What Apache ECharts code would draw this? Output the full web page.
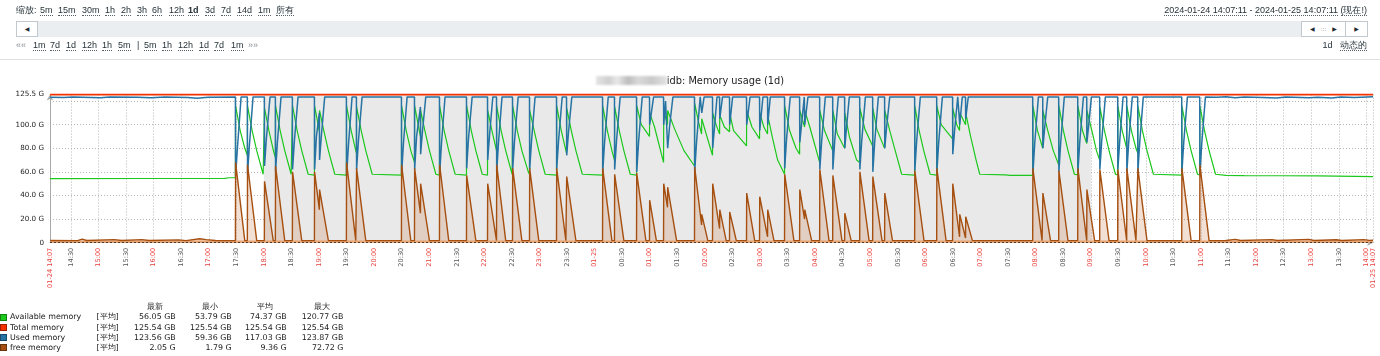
<!DOCTYPE html>
<html><head><meta charset="utf-8">
<script src="https://cdn.jsdelivr.net/npm/echarts@6/dist/echarts.min.js"></script>
<style>
html,body{margin:0;padding:0;background:#fff;width:1380px;height:356px;overflow:hidden;}
#chart{position:absolute;left:0;top:0;width:1380px;height:356px;}
.ui{position:absolute;font-family:"Liberation Sans",Arial,sans-serif;font-size:9px;line-height:11px;color:#1f2c33;white-space:nowrap;}
.u{border-bottom:1px dotted #55606a;}
.b{font-weight:bold;}
.g{color:#8a9399;}
.box{position:absolute;background:#fff;border:1px solid #c2c9ce;box-sizing:border-box;font-family:"DejaVu Sans",sans-serif;font-size:6px;color:#1f2c33;text-align:center;line-height:14px;}
.lg{position:absolute;font-family:"DejaVu Sans",sans-serif;font-size:7.9px;line-height:10px;color:#1a1a1a;white-space:nowrap;}
.sq{position:absolute;width:7px;height:7px;box-sizing:border-box;border:1px solid rgba(0,0,0,0.35);}
</style></head>
<body>
<div id="chart"></div>
<div id="ui"></div>
<script>
// ---------- data ----------
const seriesNames = ['Available memory','Total memory','Used memory','free memory'];
const legendHeaders = ['最新','最小','平均','最大'];
const legendFunc = '[平均]';
const statLast = ['56.05 GB','125.54 GB','123.56 GB','2.05 G'];
const statMin  = ['53.79 GB','125.54 GB','59.36 GB','1.79 G'];
const statAvg  = ['74.37 GB','125.54 GB','117.03 GB','9.36 G'];
const statMax  = ['120.77 GB','125.54 GB','123.87 GB','72.72 G'];

const titleText = 'idb: Memory usage (1d)';
const timeRangeText = ['2024-01-24 14:07:11','2024-01-25 14:07:11','(现在!)'];
const nonWorkPeriod = ['18:00','09:00'];
const freeMinBand = 1.79;

const yMax = 125.54;
const yTickValues = [0,20,40,60,80,100,125.54];
const yTickLabels = ['0','20.0 G','40.0 G','60.0 G','80.0 G','100.0 G','125.5 G'];
const yGridValues = [20,40,60,80,100,120,125.54];

const xTickLabels = ['01-24 14:07','14:30','15:00','15:30','16:00','16:30','17:00','17:30','18:00','18:30','19:00','19:30','20:00','20:30','21:00','21:30','22:00','22:30','23:00','23:30','01-25','00:30','01:00','01:30','02:00','02:30','03:00','03:30','04:00','04:30','05:00','05:30','06:00','06:30','07:00','07:30','08:00','08:30','09:00','09:30','10:00','10:30','11:00','11:30','12:00','12:30','13:00','13:30','14:00','01-25 14:07'];

// points: [minutes since 01-24 14:07:11, GB]
const totalPts = [[0,125.54],[1440,125.54]];

const availablePts = [
[0,54.3],[100,54.4],[190,54.5],[195,55.0],[201.8,55.0],
[202,116],[207,95],[212,80],[214.8,74],
[215,116],[220,95],[225,78],[232,58],[233.3,57.5],
[233.5,114],[238.5,94],[243.5,77],[245.3,72],
[245.5,116],[250.5,95],[255.5,78],[262.5,58],[263.8,57.3],
[264,116],[269,95],[274,78],[281,58],[287.8,57.3],
[288,116],[293.2,94],
[293.4,112],[298,95],[303,78],[310,58],[322.6,57.3],
[322.8,116],[327.8,95],[332.8,78],[333.5,76],
[333.7,115],[338.7,95],[343.7,78],[350.7,58],[382.5,57.3],
[382.7,116],[387.7,95],[392.7,78],[396.7,68],
[396.9,116],[401.9,95],[403.2,90],
[403.4,112],[408,95],[413,78],[420,58],[423.9,57.3],
[424.1,116],[429,95],[434,78],[441,58],[453.3,57.3],
[453.5,116],[458.5,95],[463.5,78],[470.5,58],[476.2,57.3],
[476.4,112],[481,95],[486,78],
[486.2,116],[491,95],[496,78],[503,58],[503.4,57.5],
[503.6,116],[508.6,95],[513.6,78],[520.6,60],[521.9,58],
[522.1,112],[527,95],[532,78],[539,58],[551.3,57.3],
[551.5,116],[556.5,95],[561.5,78],[562.2,76],
[562.4,114],[567.4,95],[572.4,78],[579.4,58],[601.4,57.3],
[601.6,116],[606.6,95],[611.6,78],[614.4,70],
[614.6,115],[619.6,95],[624.6,78],[631.6,58],[638.4,57.3],
[638.6,116],[643.6,100],[652.5,90],
[652.7,110],[658,98],[667.8,68],
[668,112],[672.1,100],
[672.3,112],[680,96],[690,78],[701.5,65],
[701.7,118],[706,102],[709.2,92],
[709.4,105],[715,90],[721.1,74],
[721.3,110],[725,100],[728.8,92],
[729,108],[734,98],[739.6,94],
[739.8,110],[744,95],[758.1,82],
[758.3,112],[764,98],[772.3,88],
[772.5,110],[777,98],[781,92],
[781.2,108],[786,90],[792,70],[799.5,58],
[799.7,116],[805,95],[812,80],[815.9,75],
[816.1,112],[821.3,98],
[821.5,112],[827,98],[837.7,68],
[837.9,112],[843,95],[851.9,78],
[852.1,112],[857,92],[864.9,80],
[865.1,110],[870,90],[878,70],[881.3,68],
[881.5,114],[887,96],[895.4,82],
[895.6,114],[900,96],[908.4,80],
[908.6,112],[914,95],[921,75],[927,58],[941.1,57.3],
[941.3,116],[946,95],[951,78],[958,58],[965.1,57.3],
[965.3,116],[970,100],[982.4,88],
[982.6,114],[987,100],[990,95],
[990.2,110],[996.5,100],
[996.7,110],[1002,90],[1008,70],[1012,58],[1040,57.5],[1045,57.0],[1069.6,57.0],
[1069.8,116],[1074.8,95],[1080.5,80],
[1080.7,112],[1086,95],[1092,78],[1097.9,66],
[1098.1,116],[1103,95],[1108,78],[1115,58],[1118.6,57.5],
[1118.8,116],[1123.8,95],[1128.4,84],
[1128.6,112],[1134,95],[1139,78],[1142.5,70],
[1142.7,115],[1147.7,95],[1152.7,78],[1159.7,58],[1162.1,57.5],
[1162.3,116],[1167,95],[1171.9,80],
[1172.1,116],[1177,95],[1182,80],[1183.9,76],
[1184.1,116],[1189,95],[1194,78],[1201,58],[1231.8,57.3],
[1232,116],[1237,95],[1242,78],[1249,58],[1251.4,57.5],
[1251.6,116],[1256.6,95],[1261.6,78],[1268.6,58],[1280,57.0],[1300,56.8],[1340,56.7],[1380,56.6],[1440,56.05]
];

const usedPts = [
[0,123.3],[15,122.9],[25,123.4],[55,122.8],[65,123.4],[95,123.2],[110,122.8],[125,123.4],[150,123.0],[160,122.3],[172,123.3],[201.8,123.4],
[202,57],[204,80],[208,123.5],
[214.8,123.5],[215,58],[217,82],[221,123.5],
[233.3,123.5],[233.5,65],[235.5,88],[239.5,123.5],
[245.3,123.5],[245.5,60],[247.5,85],[251.5,123.5],
[263.8,123.5],[264,62],[266,86],[270,123.5],
[287.8,123.5],[288,62],[290,90],[293.2,110],
[293.4,70],[295.5,92],[299,123.5],
[322.6,123.5],[322.8,57],[324.8,82],[328.8,123.5],
[333.5,123.5],[333.7,62],[335.7,86],[339.7,123.5],
[382.5,123.5],[382.7,58],[384.7,84],[388.7,123.5],
[396.7,123.5],[396.9,62],[399,90],[403.2,115],
[403.4,75],[405.5,95],[409,123.5],
[423.9,123.5],[424.1,58],[426.1,84],[430,123.5],
[453.3,123.5],[453.5,63],[455.5,88],[459.5,123.5],
[476.2,123.5],[476.4,70],[478.5,92],[482,123.5],
[486,123.5],[486.2,60],[488.2,85],[492,123.5],
[503.4,123.5],[503.6,62],[505.6,86],[509.6,123.5],
[521.9,123.5],[522.1,62],[524.1,86],[528,123.5],
[551.3,123.5],[551.5,62],[553.5,86],[557.5,123.5],
[562.2,123.5],[562.4,74],[564.4,94],[568,123.5],
[601.4,123.5],[601.6,60],[603.6,85],[607.6,123.5],
[614.4,123.5],[614.6,62],[616.6,86],[620.6,123.5],
[638.4,123.5],[638.6,60],[640.6,85],[644.6,123.5],
[652.5,123.5],[652.7,100],[654.5,110],[657,123.5],
[667.8,123.5],[668,100],[670,120],
[672.3,80],[674.3,98],[678,123.5],
[701.5,123.5],[701.7,60],[703.7,85],[707.7,123.5],
[709.2,123.5],[709.4,110],[712,123.5],
[721.1,123.5],[721.3,80],[723.3,98],[726,123.5],
[728.8,123.5],[729,105],[732,123.5],
[739.6,123.5],[739.8,100],[743,123.5],
[758.1,123.5],[758.3,100],[762,123.5],
[772.3,123.5],[772.5,95],[776,123.5],
[781,123.5],[781.2,100],[784,123.5],
[799.5,123.5],[799.7,63],[801.7,88],[805.7,123.5],
[815.9,123.5],[816.1,85],[818,100],[821,123.5],
[821.3,123.5],[821.5,100],[825,123.5],
[837.7,123.5],[837.9,62],[839.9,86],[843.9,123.5],
[851.9,123.5],[852.1,62],[854.1,86],[858,123.5],
[864.9,123.5],[865.1,80],[867,98],[870,123.5],
[881.3,123.5],[881.5,62],[883.5,86],[887.5,123.5],
[895.4,123.5],[895.6,60],[897.6,85],[901.6,123.5],
[908.4,123.5],[908.6,80],[910.6,98],[914,123.5],
[941.1,123.5],[941.3,61],[943.3,86],[947.3,123.5],
[965.1,123.5],[965.3,60],[967.3,85],[971.3,123.5],
[982.4,123.5],[982.6,75],[984.6,95],[988,123.5],
[990,123.5],[990.2,100],[993,123.5],
[996.5,123.5],[996.7,105],[999.5,123.5],
[1069.6,123.5],[1069.8,58],[1071.8,84],[1075.8,123.5],
[1080.5,123.5],[1080.7,80],[1082.7,98],[1086,123.5],
[1097.9,123.5],[1098.1,60],[1100.1,85],[1104,123.5],
[1118.6,123.5],[1118.8,60],[1120.8,85],[1124.8,123.5],
[1128.4,123.5],[1128.6,85],[1130.6,100],[1133.5,123.5],
[1142.5,123.5],[1142.7,62],[1144.7,86],[1148.7,123.5],
[1162.1,123.5],[1162.3,62],[1164.3,86],[1168,123.5],
[1171.9,123.5],[1172.1,60],[1174.1,85],[1178,123.5],
[1183.9,123.5],[1184.1,60],[1186.1,85],[1190,123.5],
[1231.8,123.5],[1232,60],[1234,85],[1238,123.5],
[1251.4,123.5],[1251.6,58],[1253.6,84],[1257.6,123.5],
[1270,123.2],[1280,123.6],[1290,122.8],[1300,123.4],[1320,123.0],[1335,122.6],[1345,123.4],[1370,122.7],[1380,123.3],[1395,122.5],[1405,123.4],[1420,123.0],[1440,123.56]
];

const freePts = [
[0,1.9],[30,1.8],[35,3.0],[40,1.9],[70,2.6],[78,1.9],[100,2.6],[108,1.9],[140,2.4],[148,1.8],[163,3.4],[170,2.6],[180,1.9],[201.8,1.8],
[202,68],[212,1.8],
[214.8,1.8],[215,66],[225,1.8],
[233.3,1.8],[233.5,52],[243,1.8],
[245.3,1.8],[245.5,65],[255.5,1.8],
[263.8,1.8],[264,60],[274,1.8],
[287.8,1.8],[288,60],[293.2,28],
[293.4,45],[303,1.8],
[322.6,1.8],[322.8,68],[332.8,1.8],
[333.5,1.8],[333.7,63],[343.7,1.8],
[382.5,1.8],[382.7,66],[392.7,1.8],
[396.7,1.8],[396.9,63],[403.2,25],
[403.4,50],[413,1.8],
[423.9,1.8],[424.1,66],[434,1.8],
[453.3,1.8],[453.5,57],[463.5,1.8],
[476.2,1.8],[476.4,50],[486,1.8],
[486.2,66],[496,1.8],
[503.4,1.8],[503.6,63],[513.6,1.8],
[521.9,1.8],[522.1,63],[532,1.8],
[551.3,1.8],[551.5,63],[561.5,1.8],
[562.2,1.8],[562.4,56],[572.4,1.8],
[601.4,1.8],[601.6,63],[611.6,1.8],
[614.4,1.8],[614.6,58],[624.6,1.8],
[638.4,1.8],[638.6,59],[648.6,1.8],
[652.5,1.8],[652.7,36],[660,1.8],
[667.8,1.8],[668,50],[672.1,30],
[672.3,47],[682,1.8],
[701.5,1.8],[701.7,64],[709.2,15],
[709.4,24],[716,1.8],
[721.1,1.8],[721.3,50],[728.8,12],
[729,28],[736,1.8],
[739.6,1.8],[739.8,26],[747,1.8],
[758.1,1.8],[758.3,42],[767,1.8],
[772.3,1.8],[772.5,39],[781,5],
[781.2,28],[788,1.8],
[799.5,1.8],[799.7,58],[809.7,1.8],
[815.9,1.8],[816.1,45],[821.3,20],
[821.5,28],[829,1.8],
[837.7,1.8],[837.9,62],[847.9,1.8],
[851.9,1.8],[852.1,57],[862,1.8],
[864.9,1.8],[865.1,25],[872,1.8],
[881.3,1.8],[881.5,60],[891.5,1.8],
[895.4,1.8],[895.6,56],[905.6,1.8],
[908.4,1.8],[908.6,42],[917,1.8],
[941.1,1.8],[941.3,61],[951.3,1.8],
[965.1,1.8],[965.3,63],[975.3,1.8],
[982.4,1.8],[982.6,50],[990,5],
[990.2,24],[996.5,4],
[996.7,22],[1004,1.8],
[1069.6,1.8],[1069.8,63],[1079.8,1.8],
[1080.5,1.8],[1080.7,42],[1089,1.8],
[1097.9,1.8],[1098.1,61],[1108,1.8],
[1118.6,1.8],[1118.8,63],[1128.4,1.8],
[1128.6,45],[1137,1.8],
[1142.5,1.8],[1142.7,62],[1152.7,1.8],
[1162.1,1.8],[1162.3,62],[1171.9,1.8],
[1172.1,63],[1182,1.8],
[1183.9,1.8],[1184.1,63],[1194,1.8],
[1231.8,1.8],[1232,63],[1242,1.8],
[1251.4,1.8],[1251.6,66],[1261.6,1.8],
[1280,1.9],[1290,2.8],[1296,1.9],[1330,2.6],[1336,1.9],[1370,2.8],[1376,1.9],[1400,2.5],[1406,1.9],[1430,2.6],[1436,2.0],[1440,2.05]
];

// ---------- styles ----------
const colors = ['#1cc81c','#f63100','#2774a4','#a54f10'];
const RED = '#e8403c', GRAY = '#555';
const START_MIN = 14*60 + 7 + 11/60;

function offsetOf(label){
  if (label === xTickLabels[0]) return 0;
  if (label === xTickLabels[xTickLabels.length-1]) return 1440;
  const hm = label.indexOf('-') >= 0 ? '00:00' : label;
  const p = hm.split(':').map(Number);
  let o = p[0]*60 + p[1] - START_MIN;
  if (o < 0) o += 1440;
  return o;
}
const xTickPos = xTickLabels.map(offsetOf);
const xMainPos = xTickPos.slice(0, -1);
const xEndPos = xTickPos.slice(-1);
function xLabelFor(v){
  for (let i=0;i<xTickPos.length;i++) if (Math.abs(xTickPos[i]-v) < 0.01) return i;
  return -1;
}
function xLabelColor(v){
  const i = xLabelFor(v); const l = i>=0 ? xTickLabels[i] : '';
  return (l.indexOf('-')>=0 || /:00$/.test(l)) ? RED : GRAY;
}
function yLabelFor(v){
  for (let i=0;i<yTickValues.length;i++) if (Math.abs(yTickValues[i]-v) < 0.01) return yTickLabels[i];
  return '';
}

// ---------- HTML UI ----------
const ui = document.getElementById('ui');
function addText(txt, x, yc, cls, right){
  const d = document.createElement('div');
  d.className = 'ui';
  d.style.top = (yc - 5.5) + 'px';
  if (right) d.style.right = (1380 - x) + 'px'; else d.style.left = x + 'px';
  d.innerHTML = cls ? '<span class="'+cls+'">'+txt+'</span>' : txt;
  ui.appendChild(d);
}
addText('缩放:', 16, 10);
[['5m',40],['15m',58],['30m',82],['1h',105],['2h',121],['3h',137],['6h',152],['12h',169],['1d',188,'b'],['3d',205],['7d',221],['14d',237],['1m',258],['所有',276]]
 .forEach(a => addText(a[0], a[1], 10, a[2] ? 'u b' : 'u'));
addText('<span class="u">'+timeRangeText[0]+'</span> - <span class="u">'+timeRangeText[1]+'</span> <span class="u">'+timeRangeText[2]+'</span>', 1367, 10, '', true);
addText('««', 16, 45, 'g');
[['1m',33],['7d',50],['1d',66],['12h',82],['1h',102],['5m',118]].forEach(a => addText(a[0], a[1], 45, 'u'));
addText('|', 137, 45);
[['5m',144],['1h',162],['12h',178],['1d',199],['7d',214],['1m',231]].forEach(a => addText(a[0], a[1], 45, 'u'));
addText('»»', 248, 45, 'g');
addText('1d&nbsp;&nbsp; <span class="u">动态的</span>', 1367, 45, '', true);

(function(){
  const bar = document.createElement('div');
  bar.style.cssText = 'position:absolute;left:16px;top:21px;width:1352px;height:16px;background:#ebeef0;';
  ui.appendChild(bar);
  const mk = (l,w,t) => { const b=document.createElement('div'); b.className='box'; b.style.left=l+'px'; b.style.top='21px'; b.style.width=w+'px'; b.style.height='16px'; b.innerHTML=t; ui.appendChild(b); };
  mk(16,22,'◀');
  mk(1301,45,'◀&nbsp;&nbsp;&nbsp;<span style="color:#999">:::</span>&nbsp;&nbsp;&nbsp;▶');
  mk(1345,23,'▶');
  const sep = document.createElement('div');
  sep.style.cssText = 'position:absolute;left:0;top:59px;width:1380px;height:1px;background:#dde1e4;';
  ui.appendChild(sep);
  const t = document.createElement('div');
  t.style.cssText = 'position:absolute;left:0;top:75px;width:1380px;text-align:center;font-family:"DejaVu Sans",sans-serif;font-size:9.8px;line-height:12px;color:#222;white-space:nowrap;';
  t.innerHTML = '<span style="display:inline-block;width:71px;height:9px;vertical-align:-1px;background:linear-gradient(90deg,#e4e4e4 0,#cfcfcf 18%,#e8e8e8 30%,#bdbdbd 45%,#d9d9d9 60%,#c9c9c9 78%,#e2e2e2 100%);filter:blur(1.2px);"></span>' + titleText;
  ui.appendChild(t);
})();

(function(){
  const rowsY = [317.3,327.5,337.7,347.9];
  const hdrX = [155,210,265,321.5];
  const colR = [175.7,231.7,286.7,343.3];
  const lg = (txt, x, yc, align) => {
    const d = document.createElement('div'); d.className='lg';
    d.style.top = (yc-5)+'px';
    if (align==='r') d.style.right = (1380-x)+'px';
    else if (align==='c') { d.style.left=(x-30)+'px'; d.style.width='60px'; d.style.textAlign='center'; }
    else d.style.left = x+'px';
    d.textContent = txt; ui.appendChild(d);
  };
  legendHeaders.forEach((h,i)=>lg(h,hdrX[i],306.7,'c'));
  const stats = [statLast, statMin, statAvg, statMax];
  seriesNames.forEach((n,i)=>{
    const s = document.createElement('div'); s.className='sq';
    s.style.left='0px'; s.style.top=(rowsY[i]-3.5)+'px'; s.style.background=colors[i];
    ui.appendChild(s);
    lg(n,10,rowsY[i]);
    lg(legendFunc,96.5,rowsY[i]);
    stats.forEach((arr,j)=>lg(arr[i],colR[j],rowsY[i],'r'));
  });
})();

// ---------- chart ----------
const chart = echarts.init(document.getElementById('chart'), null, {renderer:'canvas', width:1380, height:356});
const gridLine = {show:true, lineStyle:{color:'#b4b4b4', type:[1,2], width:1}};
const lineBase = {type:'line', showSymbol:false, symbol:'none', animation:false, silent:true};
const xLabelBase = {rotate:90, margin:5, hideOverlap:false, fontFamily:'DejaVu Sans', fontSize:6.6};
chart.setOption({
  animation:false,
  backgroundColor:'transparent',
  grid:{left:50, right:7, top:94.5, bottom:113.3, containLabel:false},
  xAxis:[{
    type:'value', min:0, max:1440, position:'bottom',
    axisLine:{show:true, onZero:false, lineStyle:{color:'#b0b0b0', width:1}, symbol:['none','arrow'], symbolSize:[5,6]},
    axisTick:{show:false, customValues:xTickPos},
    splitLine:gridLine,
    axisLabel:Object.assign({}, xLabelBase, {
      customValues:xMainPos,
      formatter:(v)=>{ const i=xLabelFor(v); return i>=0 ? xTickLabels[i] : ''; },
      color:xLabelColor
    })
  },{
    type:'value', min:0, max:1440, position:'bottom', gridIndex:0,
    axisLine:{show:false}, axisTick:{show:false}, splitLine:{show:false},
    axisLabel:Object.assign({}, xLabelBase, {
      customValues:xEndPos,
      formatter:(v)=>{ const i=xLabelFor(v); return i>=0 ? xTickLabels[i] : ''; },
      color:xLabelColor
    })
  }],
  yAxis:{
    type:'value', min:0, max:yMax,
    axisLine:{show:true, lineStyle:{color:'#a9a9a9', width:1}, symbol:['none','arrow'], symbolSize:[5,6]},
    axisTick:{show:false, customValues:yGridValues},
    splitLine:gridLine,
    axisLabel:{customValues:yTickValues, margin:6, fontFamily:'DejaVu Sans', fontSize:7.2, color:'#222', formatter:(v)=>yLabelFor(v)}
  },
  series:[
    Object.assign({}, lineBase, {name:'nonwork', data:[], z:-1,
      markArea:{silent:true, data:[
        [{xAxis:offsetOf(nonWorkPeriod[0]), itemStyle:{color:'#e9e9e9'}},{xAxis:offsetOf(nonWorkPeriod[1])}],
        [{yAxis:0, itemStyle:{color:'#f3b27e'}},{yAxis:freeMinBand}]
      ]}}),
    Object.assign({}, lineBase, {name:seriesNames[0], data:availablePts, z:3, lineStyle:{color:colors[0], width:1.2}}),
    Object.assign({}, lineBase, {name:seriesNames[1], data:totalPts, z:4, lineStyle:{color:colors[1], width:2}}),
    Object.assign({}, lineBase, {name:seriesNames[2], data:usedPts, z:5, lineStyle:{color:colors[2], width:1.5}}),
    Object.assign({}, lineBase, {name:seriesNames[3], data:freePts, z:6, lineStyle:{color:colors[3], width:1.4},
      areaStyle:{color:'#c8743c', opacity:0.22},
      markLine:{silent:true, symbol:'none', label:{show:false}, lineStyle:{color:'#333', type:[2,2], width:1}, data:[{yAxis:0}]}})
  ]
});
</script>
</body></html>
